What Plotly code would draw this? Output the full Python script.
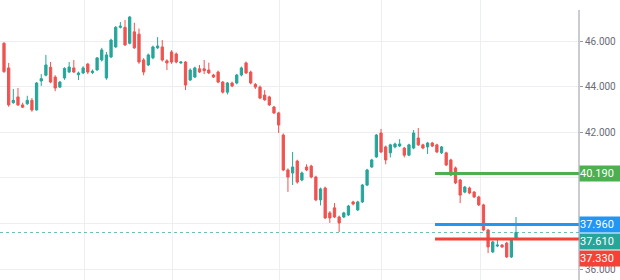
import plotly.graph_objects as go

# ---- data ----
opens = [45.90, 44.82, 43.30, 43.55, 43.20, 43.25, 43.40, 42.98, 44.25, 44.50,
         44.85, 44.42, 43.98, 44.38, 44.64, 44.82, 44.52, 44.60, 44.99, 44.62,
         44.73, 45.17, 44.38, 45.30, 45.74, 46.60, 46.60, 45.90, 46.40, 46.30,
         45.17, 44.95, 45.26, 45.70, 45.74, 45.13, 45.52, 45.43, 45.04, 45.08,
         44.29, 44.42, 44.78, 44.78, 44.73, 44.51, 44.64, 44.20, 43.76, 44.16,
         44.16, 44.51, 45.04, 44.64, 44.10, 43.98, 43.63, 43.55, 43.11, 42.85,
         41.88, 40.35, 40.22, 40.74, 39.91, 40.48, 40.52, 40.04, 39.04, 39.56,
         38.47, 38.69, 38.29, 38.29, 38.38, 38.95, 38.60, 38.95, 39.69, 40.48,
         40.92, 41.97, 41.36, 41.10, 41.36, 41.40, 41.31, 41.00, 41.31, 41.75,
         41.45, 41.36, 41.53, 41.45, 41.10, 41.10, 40.79, 40.44, 39.91, 39.38,
         39.56, 39.38, 39.17, 38.82, 37.72, 36.76, 37.02, 37.06, 37.15, 36.54,
         37.37]
highs = [45.95, 45.04, 43.90, 43.94, 43.30, 43.60, 43.50, 44.20, 44.55, 45.39,
         45.08, 44.50, 44.25, 44.85, 45.08, 45.17, 44.66, 44.90, 45.04, 44.75,
         45.30, 45.70, 45.52, 46.10, 46.65, 46.83, 46.92, 47.10, 46.80, 46.55,
         45.25, 45.45, 45.80, 46.17, 46.04, 45.20, 45.60, 45.50, 45.12, 45.12,
         44.80, 44.88, 44.95, 45.17, 45.05, 44.56, 44.70, 44.25, 44.20, 44.22,
         44.56, 44.88, 45.10, 44.70, 44.16, 44.05, 43.85, 43.60, 43.16, 42.90,
         41.95, 40.42, 41.14, 40.80, 40.28, 40.60, 40.58, 40.10, 39.58, 39.62,
         38.55, 38.90, 38.35, 38.52, 38.82, 39.00, 39.00, 39.74, 40.40, 40.84,
         41.93, 42.15, 41.42, 41.50, 41.55, 41.70, 41.36, 41.50, 42.10, 42.19,
         41.50, 41.58, 41.58, 41.50, 41.40, 41.15, 40.84, 40.50, 39.96, 39.65,
         39.62, 39.43, 39.22, 38.87, 37.77, 37.25, 37.30, 37.11, 37.20, 37.33,
         38.29]
lows = [44.60, 43.12, 43.25, 43.15, 43.06, 43.20, 42.90, 42.95, 44.03, 44.45,
        44.15, 43.80, 43.94, 44.30, 44.60, 44.60, 44.29, 44.55, 44.55, 44.55,
        44.70, 45.10, 44.30, 45.25, 45.70, 46.55, 45.78, 45.85, 45.65, 45.00,
        44.50, 44.90, 45.20, 45.65, 45.10, 44.73, 45.00, 45.02, 45.00, 43.85,
        44.25, 44.38, 44.60, 44.55, 44.55, 44.38, 44.15, 43.70, 43.66, 43.98,
        44.10, 44.45, 44.55, 44.10, 43.90, 43.45, 43.38, 43.15, 42.80, 41.97,
        40.30, 39.39, 39.69, 39.75, 39.85, 40.30, 39.98, 38.98, 38.80, 38.20,
        38.03, 38.24, 37.63, 38.24, 38.33, 38.80, 38.55, 38.90, 39.64, 40.44,
        40.88, 41.09, 40.60, 40.90, 41.30, 41.35, 40.90, 40.95, 41.26, 41.40,
        41.26, 41.05, 41.35, 41.09, 41.05, 40.52, 40.08, 39.73, 38.90, 39.33,
        39.29, 39.12, 38.77, 37.67, 36.71, 36.71, 36.97, 36.93, 36.49, 36.49,
        37.32]
closes = [44.66, 43.20, 43.40, 43.20, 43.10, 43.40, 42.98, 44.16, 44.35, 44.95,
          44.20, 43.94, 44.20, 44.80, 44.86, 44.64, 44.60, 44.82, 44.64, 44.68,
          45.26, 45.61, 45.39, 46.04, 46.60, 46.65, 45.83, 47.05, 45.70, 45.08,
          44.64, 45.39, 45.74, 45.78, 45.17, 45.04, 45.08, 45.08, 45.08, 44.07,
          44.73, 44.82, 44.64, 44.70, 44.60, 44.42, 44.20, 43.76, 44.16, 44.03,
          44.51, 44.82, 44.60, 44.16, 43.98, 43.50, 43.42, 43.20, 42.85, 42.32,
          40.35, 40.04, 40.48, 39.82, 40.22, 40.35, 40.04, 39.04, 39.52, 38.25,
          38.25, 38.29, 38.03, 38.47, 38.77, 38.86, 38.95, 39.69, 40.35, 40.79,
          41.88, 41.14, 40.79, 41.45, 41.49, 41.49, 41.00, 41.45, 41.97, 41.45,
          41.31, 41.53, 41.40, 41.14, 41.36, 40.57, 40.13, 39.78, 39.25, 39.60,
          39.34, 39.17, 38.82, 37.72, 36.98, 37.20, 37.06, 36.98, 36.54, 37.28,
          37.61]
bar_index = list(range(len(opens)))

month_breaks = [17.2, 36.1, 59.1, 81.2, 102.3]
y_ticks = [36, 38, 40, 42, 44, 46]
# 38.000 and 40.000 are hidden behind the price tags in the reference
y_tick_text = ["36.000", "", "", "42.000", "44.000", "46.000"]

level_values = [40.19, 37.96, 37.33]
level_labels = ["40.190", "37.960", "37.330"]
level_colors = ["#4caf50", "#2196f3", "#f44336"]
level_start = 92.6

last_price = 37.61
last_label = "37.610"

# ---- layout constants ----
W, H = 620, 280
R_MARGIN = 41
x_range = [-0.86, 123.53]
y_range = [35.53, 47.796]
px_per_unit = H / (y_range[1] - y_range[0])

GREEN = "#26a69a"
RED = "#ef5350"

fig = go.Figure()
fig.add_trace(go.Candlestick(
    x=bar_index, open=opens, high=highs, low=lows, close=closes,
    increasing=dict(line=dict(color=GREEN, width=1), fillcolor=GREEN),
    decreasing=dict(line=dict(color=RED, width=1), fillcolor=RED),
    whiskerwidth=0, hoverinfo="skip", showlegend=False,
))

shapes = []
# current price dotted line
shapes.append(dict(type="line", xref="x", yref="y", x0=x_range[0], x1=x_range[1],
                   y0=last_price, y1=last_price,
                   line=dict(color="rgba(38,166,154,0.7)", width=1, dash="dot"),
                   layer="above"))
for v, c in zip(level_values, level_colors):
    shapes.append(dict(type="line", xref="x", yref="y", x0=level_start, x1=x_range[1],
                       y0=v, y1=v, line=dict(color=c, width=3), layer="above"))
# price axis line
shapes.append(dict(type="line", xref="paper", yref="paper", x0=1, x1=1,
                   y0=0, y1=(H - 10) / H, line=dict(color="#9598a1", width=1),
                   layer="above"))

# price tags with stacking so they do not overlap
tags = [(v, t, c) for v, t, c in zip(level_values, level_labels, level_colors)]
tags.append((last_price, last_label, GREEN))
tags.sort(key=lambda a: -a[0])
TAG_H = 17
annotations = []
prev_px = None
for v, t, c in tags:
    px = (y_range[1] - v) * px_per_unit
    if prev_px is not None and px < prev_px + TAG_H:
        px = prev_px + TAG_H
    shift = -(px - (y_range[1] - v) * px_per_unit)
    prev_px = px
    annotations.append(dict(
        xref="paper", yref="y", x=1, y=v, yshift=shift, xanchor="left",
        yanchor="middle", text=t, showarrow=False, width=R_MARGIN, height=15,
        bgcolor=c, borderpad=0, align="left",
        font=dict(color="white", size=11, family="Roboto"),
    ))

fig.update_layout(
    width=W, height=H,
    margin=dict(l=0, r=R_MARGIN, t=0, b=0),
    paper_bgcolor="white", plot_bgcolor="white",
    shapes=shapes, annotations=annotations,
    xaxis=dict(range=x_range, rangeslider=dict(visible=False),
               tickvals=month_breaks, showticklabels=False, ticks="",
               showgrid=True, gridcolor="#eceef2", gridwidth=1,
               zeroline=False, showline=False, fixedrange=True),
    yaxis=dict(range=y_range, side="right", tickvals=y_ticks, ticktext=y_tick_text,
               showgrid=True, gridcolor="#eceef2", gridwidth=1,
               ticks="outside", ticklen=3, tickcolor="#9598a1",
               tickfont=dict(color="#6a6d78", size=10, family="Roboto"),
               zeroline=False, showline=False, fixedrange=True),
)

fig.write_html("out.html")
